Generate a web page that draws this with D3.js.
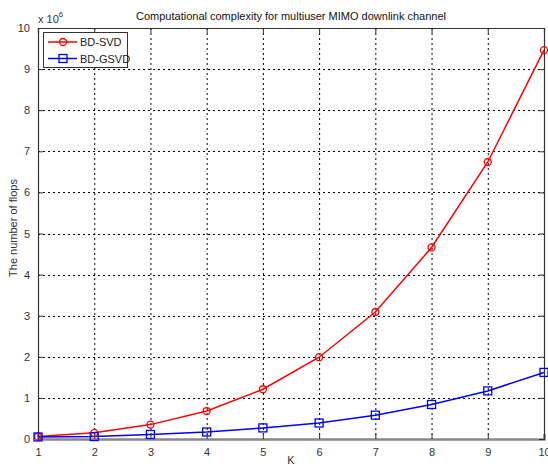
<!DOCTYPE html>
<html><head><meta charset="utf-8">
<script src="https://cdn.jsdelivr.net/npm/d3@7"></script>
<style>body{margin:0;background:#fff}svg{display:block}text{font-family:"Liberation Sans",Arial,sans-serif}</style>
</head><body>
<svg id="c" width="548" height="466"></svg>
<script>
const K = [1,2,3,4,5,6,7,8,9,10];
const bdSVD = [0.06,0.15,0.35,0.68,1.21,1.99,3.09,4.66,6.74,9.46];
const bdGSVD = [0.05,0.06,0.11,0.17,0.27,0.39,0.58,0.84,1.17,1.62];
const xTicks = [1,2,3,4,5,6,7,8,9,10];
const yTicks = [0,1,2,3,4,5,6,7,8,9,10];
const seriesNames = ["BD-SVD","BD-GSVD"];
const title = "Computational complexity for multiuser MIMO downlink channel";

const svg = d3.select("#c");
const L=38, R=544, T=28, B=439;
const x = d3.scaleLinear().domain([1,10]).range([L,R]);
const y = d3.scaleLinear().domain([0,10]).range([B,T]);
const axisColor="#333";

// grid
const g = svg.append("g");
g.selectAll(".vg").data(xTicks.slice(1,-1)).enter().append("line")
 .attr("x1",d=>x(d)+0.5).attr("x2",d=>x(d)+0.5).attr("y1",T).attr("y2",B)
 .attr("stroke","#000").attr("stroke-dasharray","2,3").attr("stroke-width",1);
g.selectAll(".hg").data(yTicks.slice(1,-1)).enter().append("line")
 .attr("y1",d=>Math.round(y(d))+0.5).attr("y2",d=>Math.round(y(d))+0.5).attr("x1",L).attr("x2",R)
 .attr("stroke","#000").attr("stroke-dasharray","2,3").attr("stroke-width",1);

// axes
const xa = svg.append("g").attr("transform",`translate(0,${B})`)
 .call(d3.axisBottom(x).tickValues(xTicks).tickSize(-5).tickPadding(9).tickFormat(d3.format("d")));
const xt = svg.append("g").attr("transform",`translate(0,${T})`)
 .call(d3.axisTop(x).tickValues(xTicks).tickSize(-5).tickFormat(""));
const ya = svg.append("g").attr("transform",`translate(${L},0)`)
 .call(d3.axisLeft(y).tickValues(yTicks).tickSize(-5).tickPadding(8).tickFormat(d3.format("d")));
const yr = svg.append("g").attr("transform",`translate(${R},0)`)
 .call(d3.axisRight(y).tickValues(yTicks).tickSize(-5).tickFormat(""));
[xa,xt,ya,yr].forEach(a=>{
  a.select(".domain").attr("stroke",axisColor).attr("stroke-width",1.2);
  a.selectAll(".tick line").attr("stroke",axisColor);
  a.selectAll("text").attr("fill","#333").style("font-size","11px").style("font-family","'Liberation Sans',Arial,sans-serif");
});
xa.select(".domain").attr("stroke","#888").attr("stroke-width",2.5);

// lines
const line = d3.line().x((d,i)=>x(K[i])).y(d=>y(d));
svg.append("path").datum(bdSVD).attr("d",line).attr("fill","none").attr("stroke","#ff0000").attr("stroke-width",1.5);
svg.append("path").datum(bdGSVD).attr("d",line).attr("fill","none").attr("stroke","#0000ff").attr("stroke-width",1.5);
svg.selectAll(".m1").data(bdSVD).enter().append("circle")
 .attr("cx",(d,i)=>x(K[i])).attr("cy",d=>y(d)).attr("r",3.5)
 .attr("fill","none").attr("stroke","#ff0000").attr("stroke-width",1.3);
svg.selectAll(".m2").data(bdGSVD).enter().append("rect")
 .attr("x",(d,i)=>x(K[i])-4).attr("y",d=>y(d)-4).attr("width",8).attr("height",8)
 .attr("fill","none").attr("stroke","#0000ff").attr("stroke-width",1.3);

// title & labels
svg.append("text").attr("x",291).attr("y",20).attr("text-anchor","middle")
 .style("font-size","11px").attr("fill","#111").text(title);
const ex = svg.append("text").attr("x",38).attr("y",23).style("font-size","11px").attr("fill","#333");
ex.append("tspan").text("x 10");
ex.append("tspan").attr("dy",-6).style("font-size","8px").text("6");
svg.append("text").attr("x",291).attr("y",464).attr("text-anchor","middle")
 .style("font-size","11px").attr("fill","#333").text("K");
svg.append("text").attr("transform","translate(17,228) rotate(-90)").attr("text-anchor","middle")
 .style("font-size","11px").attr("fill","#333").text("The number of flops");

// legend
const lg = svg.append("g");
lg.append("rect").attr("x",43.5).attr("y",32.5).attr("width",84).attr("height",35)
 .attr("fill","#fff").attr("stroke","#333").attr("stroke-width",1);
const colors=["#ff0000","#0000ff"];
seriesNames.forEach((n,i)=>{
  const yy = 42 + i*16.5;
  lg.append("line").attr("x1",48).attr("x2",77).attr("y1",yy).attr("y2",yy).attr("stroke",colors[i]).attr("stroke-width",1.5);
  if(i===0) lg.append("circle").attr("cx",63).attr("cy",yy).attr("r",3.5).attr("fill","none").attr("stroke",colors[i]).attr("stroke-width",1.3);
  else lg.append("rect").attr("x",59).attr("y",yy-4).attr("width",8).attr("height",8).attr("fill","none").attr("stroke",colors[i]).attr("stroke-width",1.3);
  lg.append("text").attr("x",80).attr("y",yy+4).style("font-size","11px").attr("fill","#222").text(n);
});
</script>
</body></html>
